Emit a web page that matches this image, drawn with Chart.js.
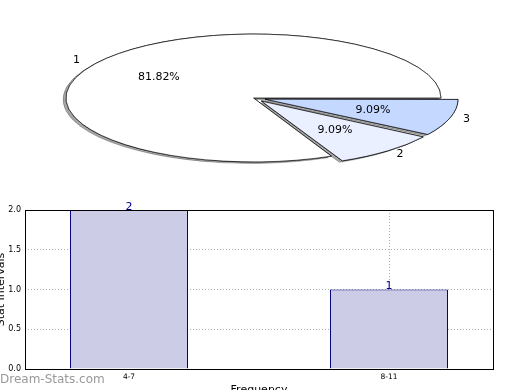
<!DOCTYPE html>
<html>
<head>
<meta charset="utf-8">
<script src="https://cdn.jsdelivr.net/npm/chart.js@4"></script>
<style>
  body { margin: 0; background: #fff; }
  #wrap { position: relative; width: 520px; height: 390px; overflow: hidden; }
  #pie { position: absolute; left: 0; top: 0; }
  #barra { position: absolute; left: 0; top: 196px; }
  #marca { position: absolute; left: 0; top: 372px; font: 12px "DejaVu Sans", sans-serif; color: #999; }
</style>
</head>
<body>
<div id="wrap">
  <canvas id="pie" width="520" height="196"></canvas>
  <canvas id="barra" width="520" height="194"></canvas>
  <div id="marca">Dream-Stats.com</div>
</div>
<script>
// dados da pizza (ordem do matplotlib, anti-horario a partir das 3h)
const sliceLabels = ['1', '2', '3'];
const slicePct = [81.82, 9.09, 9.09];
const sliceColors = ['#ffffff', '#eaf0ff', '#c5d8ff'];
const sliceExploded = [false, true, true];

// dados das barras
const categories = ['4-7', '8-11'];
const counts = [2, 1];
const yTicks = [0, 0.5, 1, 1.5, 2];

const fonte = '"DejaVu Sans", sans-serif';
const achatar = 0.341; // elipse do grafico de pizza
const explodePx = 12;  // Chart.js desloca o arco em offset/4

function elipse(chart, ctx) {
  const arc = chart.getDatasetMeta(0).data[0];
  ctx.translate(arc.x, arc.y);
  ctx.scale(1, achatar);
  ctx.translate(-arc.x, -arc.y);
}

const pizzaPlugin = {
  id: 'pizza',
  beforeDatasetsDraw(chart) {
    const ctx = chart.ctx;
    // sombra primeiro, depois desenho normal por cima
    ctx.save();
    elipse(chart, ctx);
    ctx.shadowColor = 'rgba(0,0,0,0.35)';
    ctx.shadowOffsetX = -3;
    ctx.shadowOffsetY = 1.5;
    chart.getDatasetMeta(0).controller.draw();
    ctx.restore();
    ctx.save();
    elipse(chart, ctx);
  },
  afterDatasetsDraw(chart) {
    chart.ctx.restore();
  },
  afterDraw(chart) {
    const ctx = chart.ctx;
    const meta = chart.getDatasetMeta(0);
    ctx.save();
    ctx.font = '11px ' + fonte;
    ctx.fillStyle = '#000';
    ctx.textBaseline = 'middle';
    meta.data.forEach((arc, i) => {
      const p = arc.getProps(['x', 'y', 'startAngle', 'endAngle', 'outerRadius'], true);
      const mid = (p.startAngle + p.endAngle) / 2;
      const off = (arc.options.offset || 0) / 4;
      const cx = p.x + Math.cos(mid) * off;
      const cy = p.y + Math.sin(mid) * off;
      const pos = f => [cx + Math.cos(mid) * p.outerRadius * f,
                        p.y + (cy + Math.sin(mid) * p.outerRadius * f - p.y) * achatar];
      const lab = pos(1.1);
      ctx.textAlign = Math.cos(mid) < 0 ? 'right' : 'left';
      ctx.fillText(chart.data.labels[i], lab[0], lab[1]);
      const pc = pos(0.6);
      ctx.textAlign = 'center';
      ctx.fillText(chart.data.datasets[0].data[i].toFixed(2) + '%', pc[0], pc[1]);
    });
    ctx.restore();
  }
};

// Chart.js desenha no sentido horario, entao inverte a ordem
const ordem = [2, 1, 0];

new Chart(document.getElementById('pie'), {
  type: 'pie',
  data: {
    labels: ordem.map(i => sliceLabels[i]),
    datasets: [{
      data: ordem.map(i => slicePct[i]),
      backgroundColor: ordem.map(i => sliceColors[i]),
      offset: ordem.map(i => sliceExploded[i] ? explodePx * 4 : 0),
      borderColor: '#000',
      borderWidth: 1,
      clip: false
    }]
  },
  options: {
    responsive: false,
    animation: false,
    rotation: 90,
    radius: 187.5,
    layout: { padding: { left: 0, right: 13, top: 0, bottom: 0 } },
    plugins: { legend: { display: false }, tooltip: { enabled: false } }
  },
  plugins: [pizzaPlugin]
});

const molduraPlugin = {
  id: 'moldura',
  afterDraw(chart) {
    const a = chart.chartArea;
    const ctx = chart.ctx;
    ctx.save();
    ctx.strokeStyle = '#000';
    ctx.lineWidth = 1;
    ctx.strokeRect(Math.round(a.left) + 0.5, Math.round(a.top) + 0.5,
                   Math.round(a.right - a.left), Math.round(a.bottom - a.top));
    // valores em cima das barras
    ctx.font = '11px ' + fonte;
    ctx.fillStyle = '#000080';
    ctx.textAlign = 'center';
    ctx.textBaseline = 'alphabetic';
    chart.getDatasetMeta(0).data.forEach((bar, i) => {
      ctx.fillText(String(counts[i]), bar.x, bar.y - 0.5);
    });
    ctx.restore();
  }
};

const grade = {
  color: '#b0b0b0',
  lineWidth: 1,
  drawTicks: false,
  offset: false
};
const borda = { display: false, dash: [1, 2] };

new Chart(document.getElementById('barra'), {
  type: 'bar',
  data: {
    datasets: [{
      data: categories.map((c, i) => ({ x: i, y: counts[i] })),
      backgroundColor: '#ccccE6',
      borderColor: '#000080',
      borderWidth: 1,
      inflateAmount: 0,
      barPercentage: 0.454,
      categoryPercentage: 1
    }]
  },
  options: {
    responsive: false,
    animation: false,
    layout: { padding: { left: -5, right: 27, top: 14, bottom: -7 } },
    plugins: { legend: { display: false }, tooltip: { enabled: false } },
    scales: {
      x: {
        type: 'linear',
        min: -0.4,
        max: 1.4,
        offset: false,
        z: 1,
        afterBuildTicks: s => { s.ticks = categories.map((c, i) => ({ value: i })); },
        afterFit: s => { s.height = 28; },
        grid: grade,
        border: borda,
        ticks: {
          padding: 4,
          font: { family: fonte, size: 7.5 },
          color: '#000',
          maxRotation: 0,
          callback: v => categories[v]
        },
        title: { display: true, text: 'Frequency', padding: 0, color: '#000', font: { family: fonte, size: 11 } }
      },
      y: {
        min: 0,
        max: 2,
        z: 1,
        afterBuildTicks: s => { s.ticks = yTicks.map(v => ({ value: v })); },
        afterFit: s => { s.width = 30; },
        grid: grade,
        border: borda,
        ticks: {
          padding: 4,
          font: { family: fonte, size: 8 },
          color: '#000',
          callback: v => v.toFixed(1)
        },
        title: { display: true, text: 'Stat Intervals', padding: 0, color: '#000', font: { family: fonte, size: 11 } }
      }
    }
  },
  plugins: [molduraPlugin]
});
</script>
</body>
</html>
